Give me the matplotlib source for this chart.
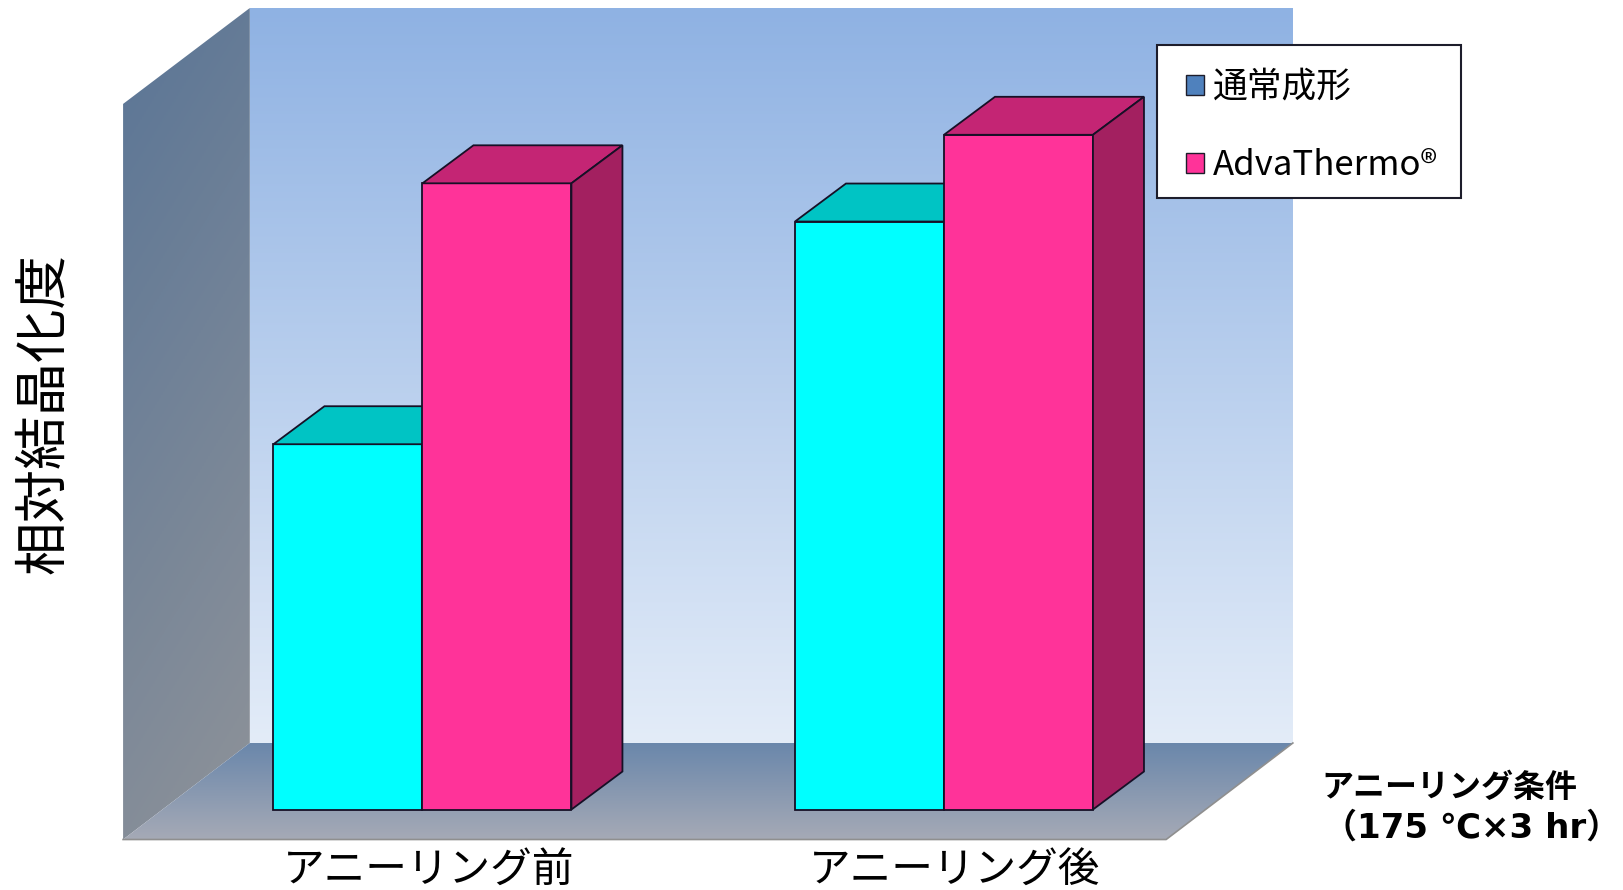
import numpy as np
import matplotlib
matplotlib.use('Agg')
import matplotlib.pyplot as plt
from matplotlib.colors import LinearSegmentedColormap
from matplotlib.patches import Patch, Polygon, Rectangle

plt.rcParams['font.family'] = ['Noto Sans CJK JP', 'DejaVu Sans']

categories = ['アニーリング前', 'アニーリング後']
normal_values = [49.7, 80.0]
advathermo_values = [85.2, 91.8]
series_names = ['通常成形', 'AdvaThermo®']
y_label = '相対結晶化度'
x_note = ['アニーリング条件', '（175 ℃×3 hr）']

# layout of the fake 3D box, in data units
bar_w = 0.2857
bar_dx, bar_dy = 0.0978, 5.17
left, right = -0.329, 1.671
front_x = -0.572
floor_front, floor_back, wall_top, side_top = -4.08, 9.05, 109.05, 96.0
edge = '#161026'

fig = plt.figure(figsize=(16.23, 8.90), dpi=100)
ax = fig.add_axes([0, 0, 1, 1])


# gradient image clipped to a polygon
def grad_poly(points, colors, diagonal=False):
    xs, ys = zip(*points)
    cmap = LinearSegmentedColormap.from_list('g', colors)
    t = np.linspace(1, 0, 256)
    img = np.tile(t[:, None], (1, 256))
    if diagonal:
        img = 0.8 * img + 0.2 * np.linspace(1, 0, 256)[None, :]
    im = ax.imshow(img, cmap=cmap, vmin=0, vmax=1, aspect='auto', origin='upper',
                   extent=[min(xs), max(xs), min(ys), max(ys)], zorder=1)
    poly = Polygon(points, closed=True, transform=ax.transData, fc='none', ec='none')
    ax.add_patch(poly)
    im.set_clip_path(poly)


grad_poly([(left, floor_back), (right, floor_back), (right, wall_top), (left, wall_top)],
          ['#e3ecf8', '#8fb2e3'])
grad_poly([(front_x, floor_front), (left, floor_back), (left, wall_top), (front_x, side_top)],
          ['#8f9399', '#5a7596'], diagonal=True)
grad_poly([(left, floor_back), (right, floor_back), (right - (left - front_x), floor_front), (front_x, floor_front)],
          ['#a6aab6', '#6a87ab'])
ax.plot([front_x, right - (left - front_x), right],
        [floor_front, floor_front, floor_back], color='#8f8f8f', lw=1.2, zorder=2)


def draw_bars(xs, values, front, top, side):
    ax.bar(xs, values, width=bar_w, align='edge', color=front, edgecolor=edge, linewidth=1.3, zorder=3)
    for x, v in zip(xs, values):
        ax.add_patch(Polygon([(x, v), (x + bar_w, v), (x + bar_w + bar_dx, v + bar_dy), (x + bar_dx, v + bar_dy)],
                             fc=top, ec=edge, lw=1.3, zorder=3))
        ax.add_patch(Polygon([(x + bar_w, 0), (x + bar_w + bar_dx, bar_dy), (x + bar_w + bar_dx, v + bar_dy), (x + bar_w, v)],
                             fc=side, ec=edge, lw=1.3, zorder=3))


pos = np.arange(len(categories)) + 0.002
draw_bars(pos - bar_w, normal_values, '#00ffff', '#00c4c4', '#00a0a0')
draw_bars(pos, advathermo_values, '#ff3399', '#c42574', '#a32060')

for p, off, name in zip(pos, [0.012, 0.02], categories):
    ax.text(p + off, -8.4, name, ha='center', va='center', fontsize=30, color='black', zorder=5)

ax.text(44 / 1623, 1 - 414 / 890, y_label, transform=ax.transAxes, rotation=90,
        ha='center', va='center', fontsize=38.5, color='black')
ax.text(1321 / 1623, 1 - 788 / 890, x_note[0], transform=ax.transAxes, ha='left', va='center',
        fontsize=23, fontweight='bold', color='black')
ax.text(1323 / 1623, 1 - 828 / 890, x_note[1], transform=ax.transAxes, ha='left', va='center',
        fontsize=24.5, fontweight='bold', color='black', family=['DejaVu Sans', 'Noto Sans CJK JP'])

# legend box is drawn by hand, the padding in the original is not even
ax.add_patch(Rectangle((1157 / 1623, 1 - 198 / 890), 304 / 1623, 153 / 890, transform=ax.transAxes,
                       fc='white', ec='#1d1d2b', lw=1.5, zorder=6))
handles = [Patch(fc='#4f81bd', ec='#1d1d2b', lw=1), Patch(fc='#ff3399', ec='#1d1d2b', lw=1)]
leg = ax.legend(handles, series_names, loc='upper left', bbox_to_anchor=(1186 / 1623, 1 - 70 / 890),
                borderaxespad=0, frameon=False, fontsize=25, handlelength=0.52, handleheight=0.52,
                handletextpad=0.25, labelspacing=1.25, borderpad=0)
leg.set_zorder(7)

ax.set_xlim(-0.808, 2.304)
ax.set_ylim(-10.95, 110.14)
ax.axis('off')
fig.savefig('out.png', dpi=100)
